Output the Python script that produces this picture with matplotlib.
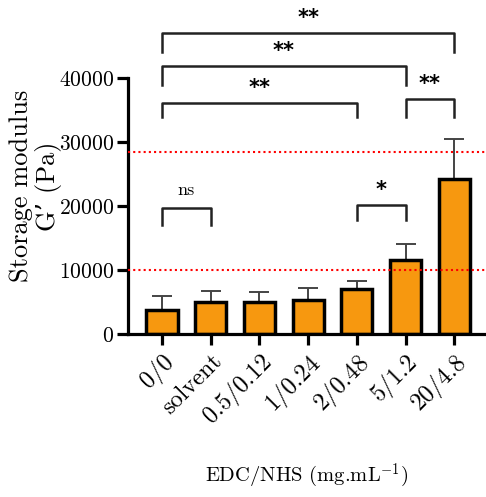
import numpy as np
import matplotlib.pyplot as plt

plt.rcParams['font.family'] = ['cmr10', 'DejaVu Serif']
plt.rcParams['mathtext.fontset'] = 'cm'
plt.rcParams['axes.formatter.use_mathtext'] = True

# данные
groups = ["0/0", "solvent", "0.5/0.12", "1/0.24", "2/0.48", "5/1.2", "20/4.8"]
means = [3750, 5050, 4950, 5300, 7030, 11560, 24200]
sd = [2250, 1720, 1550, 1840, 1300, 2440, 6270]
ref_lines = [28500, 10000]

# значимість: (i, j, рівень лінії, низ засічки, підпис)
brackets = [
    (0, 6, 47100, 44100, "**"),
    (0, 5, 41900, 38900, "**"),
    (0, 4, 36100, 33900, "**"),
    (5, 6, 36700, 33900, "**"),
    (0, 1, 19700, 17000, "ns"),
    (4, 5, 20200, 17800, "*"),
]

fig = plt.figure(figsize=(4.86, 4.97), dpi=100)
ax = fig.add_axes([0.263, 0.328, 0.737, 0.515])

x = np.arange(len(groups))
ax.bar(x, means, width=0.64, color='#F7980F', edgecolor='black', linewidth=2.5, zorder=2)
ax.errorbar(x, means, yerr=[np.zeros(len(sd)), sd], fmt='none', ecolor='#444444',
            elinewidth=1.4, capsize=7, capthick=1.4, zorder=1)

for v in ref_lines:
    ax.axhline(v, color='red', linestyle=(0, (1, 1.5)), linewidth=1.5, zorder=3)

for i, j, top, bot, lab in brackets:
    ax.plot([i, i, j, j], [bot, top, top, bot], color='#222222', lw=1.8,
            clip_on=False, zorder=4)
    if lab == "ns":
        ax.text((i + j) / 2, top + 2800, lab, ha='center', va='center', fontsize=13,
                clip_on=False)
    else:
        ax.text((i + j) / 2, top + 2300, lab, ha='center', va='center', fontsize=15,
                fontweight='bold', family='DejaVu Sans', clip_on=False)

ax.set_xlim(-0.7, 6.65)
ax.set_ylim(0, 40000)
ax.set_yticks([0, 10000, 20000, 30000, 40000])
ax.set_xticks(x)
ax.set_xticklabels(groups, rotation=45, ha='right', rotation_mode='anchor', fontsize=17.5)
ax.tick_params(axis='y', labelsize=15.5, width=2.3, length=8, pad=2)
ax.tick_params(axis='x', width=2.3, length=8)
for s in ['top', 'right']:
    ax.spines[s].set_visible(False)
for s in ['left', 'bottom']:
    ax.spines[s].set_linewidth(2.3)

ax.set_ylabel("Storage modulus\nG\u2019 (Pa)", fontsize=19, linespacing=1.1)
ax.yaxis.set_label_coords(-0.185, 0.578)
ax.set_xlabel("EDC/NHS (mg.mL$^{\\mathregular{-1}}$)", fontsize=14.8)
ax.xaxis.set_label_coords(0.5, -0.50)

plt.savefig("out.png", dpi=100)
